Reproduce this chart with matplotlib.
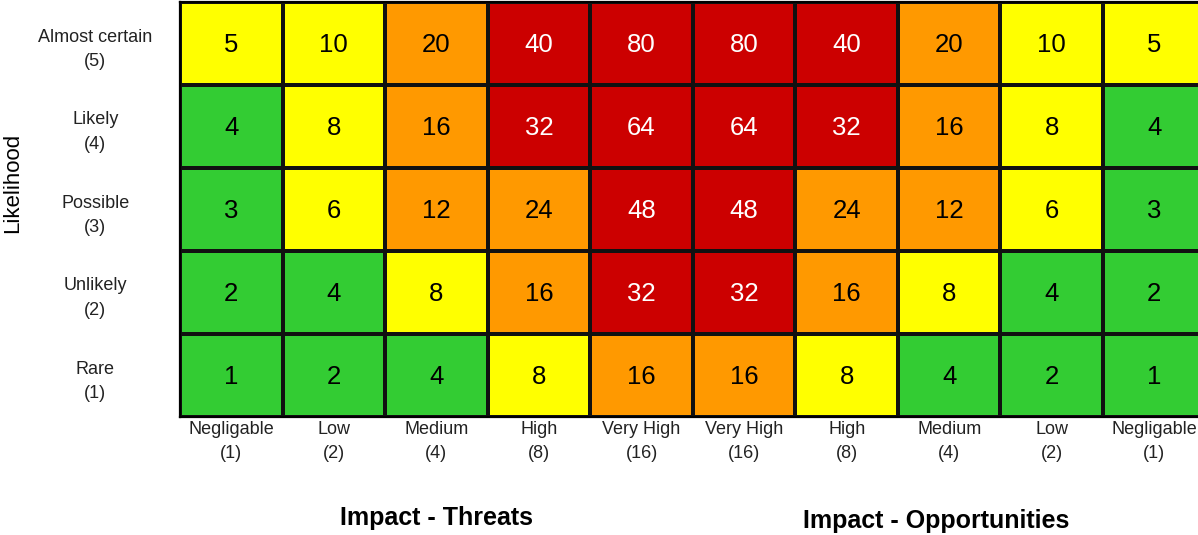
import matplotlib.pyplot as plt
from matplotlib.colors import ListedColormap, BoundaryNorm

plt.rcParams["font.family"] = ["Liberation Sans", "DejaVu Sans"]

LIKELIHOOD = ["Almost certain\n(5)", "Likely\n(4)", "Possible\n(3)", "Unlikely\n(2)", "Rare\n(1)"]
IMPACT = ["Negligable\n(1)", "Low\n(2)", "Medium\n(4)", "High\n(8)", "Very High\n(16)",
          "Very High\n(16)", "High\n(8)", "Medium\n(4)", "Low\n(2)", "Negligable\n(1)"]

# risk score per cell, top row = almost certain
SCORES = [
    [5, 10, 20, 40, 80, 80, 40, 20, 10, 5],
    [4, 8, 16, 32, 64, 64, 32, 16, 8, 4],
    [3, 6, 12, 24, 48, 48, 24, 12, 6, 3],
    [2, 4, 8, 16, 32, 32, 16, 8, 4, 2],
    [1, 2, 4, 8, 16, 16, 8, 4, 2, 1],
]

BANDS = [0, 4.5, 11, 28, 100]
BAND_COLORS = ["#33cc33", "#ffff00", "#ff9900", "#cc0000"]


def main() -> None:
    W, H = 1198, 535
    fig = plt.figure(figsize=(W / 100, H / 100), dpi=100)
    ax = fig.add_axes([180 / W, (H - 417) / H, 1025.6 / W, 415 / H])

    cmap = ListedColormap(BAND_COLORS)
    norm = BoundaryNorm(BANDS, cmap.N)
    ax.pcolormesh(SCORES, cmap=cmap, norm=norm, edgecolors="#111111", linewidth=1.5)
    ax.set_xlim(0, len(IMPACT))
    ax.set_ylim(len(LIKELIHOOD), 0)

    for r, row in enumerate(SCORES):
        for c, v in enumerate(row):
            ax.text(c + 0.5, r + 0.52, str(v), ha="center", va="center", fontsize=18.5,
                    color="white" if v >= 28 else "black")

    ax.set_xticks([i + 0.5 for i in range(len(IMPACT))])
    ax.set_xticklabels(IMPACT, fontsize=13, color="#222222")
    ax.set_yticks([i + 0.5 for i in range(len(LIKELIHOOD))])
    ax.set_yticklabels(LIKELIHOOD, fontsize=13, ha="center", color="#222222")
    for lbl in ax.get_xticklabels() + ax.get_yticklabels():
        lbl.set_linespacing(1.55)
    ax.tick_params(axis="x", length=0, pad=3)
    ax.tick_params(axis="y", length=0, pad=61)
    for s in ax.spines.values():
        s.set_linewidth(1.6)

    fig.text(13 / W, 1 - 183 / H, "Likelihood", rotation=90, ha="center", va="center", fontsize=16)
    fig.text(436 / W, 1 - 518 / H, "Impact - Threats", ha="center", va="center",
             fontsize=18, fontweight="bold")
    fig.text(936 / W, 1 - 521 / H, "Impact - Opportunities", ha="center", va="center",
             fontsize=18, fontweight="bold")

    fig.savefig("out.png", dpi=100)
    plt.close()


if __name__ == "__main__":
    main()
